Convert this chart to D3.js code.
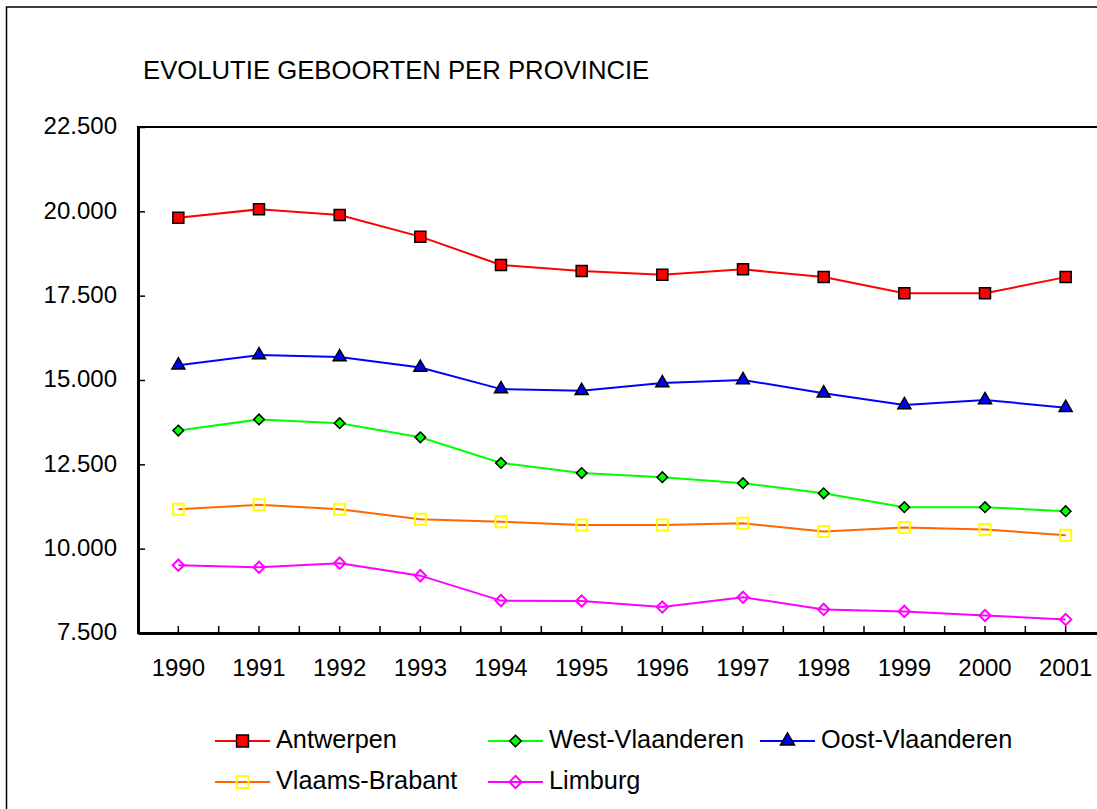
<!DOCTYPE html>
<html>
<head>
<meta charset="utf-8">
<script src="https://cdn.jsdelivr.net/npm/d3@7"></script>
<style>
  body { margin: 0; background: #fff; }
  text { font-family: "Liberation Sans", Arial, sans-serif; fill: #000; }
</style>
</head>
<body>
<svg id="chart" width="1097" height="809"></svg>
<script>
// data
var years = ["1990","1991","1992","1993","1994","1995","1996","1997","1998","1999","2000","2001"];
var antwerpen      = [19810, 20060, 19890, 19250, 18410, 18230, 18120, 18280, 18050, 17570, 17570, 18050];
var westVlaanderen = [13500, 13830, 13720, 13300, 12540, 12240, 12120, 11940, 11640, 11230, 11230, 11110];
var oostVlaanderen = [15440, 15740, 15680, 15370, 14730, 14680, 14910, 15000, 14610, 14260, 14410, 14180];
var vlaamsBrabant  = [11170, 11300, 11170, 10870, 10800, 10700, 10700, 10750, 10510, 10630, 10570, 10400];
var limburg        = [9510, 9450, 9570, 9200, 8460, 8450, 8270, 8560, 8200, 8140, 8020, 7900];
var yTicks = [7500, 10000, 12500, 15000, 17500, 20000, 22500];

var series = [
  {name: "Antwerpen", values: antwerpen, line: "#ff0000", marker: "square", fill: "#ff0000", stroke: "#000", size: 11},
  {name: "West-Vlaanderen", values: westVlaanderen, line: "#00ff00", marker: "diamond", fill: "#00ff00", stroke: "#000", size: 7.5},
  {name: "Oost-Vlaanderen", values: oostVlaanderen, line: "#0000ff", marker: "triangle", fill: "#0000ff", stroke: "#000", size: 13},
  {name: "Vlaams-Brabant", values: vlaamsBrabant, line: "#ff6600", marker: "square", fill: "none", stroke: "#ffff00", size: 11},
  {name: "Limburg", values: limburg, line: "#ff00ff", marker: "diamond", fill: "none", stroke: "#ff00ff", size: 8}
];

var svg = d3.select("#chart");
var plotLeft = 138, plotTop = 127, plotRight = 1106, plotBottom = 633;

var nl = d3.formatLocale({decimal: ",", thousands: ".", grouping: [3], currency: ["€", ""]});
var fmt = nl.format(",.0f");

// outer frame
svg.append("rect")
  .attr("x", 6.5).attr("y", 7).attr("width", 1200).attr("height", 1000)
  .attr("fill", "none").attr("stroke", "#000").attr("stroke-width", 1.5);

svg.append("text")
  .attr("x", 143).attr("y", 79)
  .style("font-size", "25.7px")
  .text("EVOLUTIE GEBOORTEN PER PROVINCIE");

var x = d3.scaleBand().domain(years).range([plotLeft, plotRight]);
var y = d3.scaleLinear().domain([7500, 22500]).range([plotBottom, plotTop]);
function cx(d) { return x(d) + x.bandwidth() / 2; }

// plot frame
svg.append("rect")
  .attr("x", plotLeft).attr("y", plotTop).attr("width", plotRight - plotLeft).attr("height", plotBottom - plotTop)
  .attr("fill", "none").attr("stroke", "#000").attr("stroke-width", 2);

var yAxis = svg.append("g")
  .attr("transform", "translate(" + plotLeft + ",0)")
  .call(d3.axisLeft(y).tickValues(yTicks).tickFormat(fmt).tickSizeInner(-7).tickSizeOuter(0).tickPadding(21));
yAxis.select(".domain").attr("stroke-width", 3);
yAxis.selectAll(".tick line").attr("stroke-width", 1.5);
yAxis.selectAll("text").style("font-size", "24px").attr("dy", "0.28em");

var xAxis = svg.append("g")
  .attr("transform", "translate(0," + plotBottom + ")")
  .call(d3.axisBottom(x).tickSizeInner(-7).tickSizeOuter(0).tickPadding(26));
xAxis.select(".domain").attr("stroke-width", 3);
xAxis.selectAll(".tick line").attr("stroke-width", 1.5);
xAxis.selectAll("text").style("font-size", "24px");
// ticks between categories
xAxis.selectAll(".between")
  .data(years.slice(1))
  .enter().append("line")
  .attr("class", "between")
  .attr("x1", function(d) { return x(d); })
  .attr("x2", function(d) { return x(d); })
  .attr("y1", 0).attr("y2", -7)
  .attr("stroke", "#000").attr("stroke-width", 1.5);

function markerPath(type, s) {
  if (type == "square") return d3.symbol(d3.symbolSquare, s * s)();
  if (type == "diamond") return d3.symbol(d3.symbolSquare, s * s)();
  // triangle, side s
  return d3.symbol(d3.symbolTriangle, Math.sqrt(3) / 4 * s * s)();
}
function markerRot(type) { return type == "diamond" ? " rotate(45)" : ""; }

var line = d3.line()
  .x(function(d, i) { return cx(years[i]); })
  .y(function(d) { return y(d); });

series.forEach(function(s) {
  svg.append("path")
    .datum(s.values)
    .attr("d", line)
    .attr("fill", "none")
    .attr("stroke", s.line)
    .attr("stroke-width", 2);

  svg.selectAll(null)
    .data(s.values)
    .enter().append("path")
    .attr("d", markerPath(s.marker, s.size))
    .attr("transform", function(d, i) {
      return "translate(" + cx(years[i]) + "," + y(d) + ")" + markerRot(s.marker);
    })
    .attr("fill", s.fill)
    .attr("stroke", s.stroke)
    .attr("stroke-width", s.fill == "none" ? 2 : 1.5);
});

// legend: two rows, three columns
var legendCols = [215, 488, 760];
var legendRows = [741, 782];
var legend = svg.selectAll(".legend")
  .data(series)
  .enter().append("g")
  .attr("class", "legend")
  .attr("transform", function(d, i) {
    return "translate(" + legendCols[i % 3] + "," + legendRows[Math.floor(i / 3)] + ")";
  });

legend.append("line")
  .attr("x1", 0).attr("x2", 55)
  .attr("y1", 0).attr("y2", 0)
  .attr("stroke", function(d) { return d.line; })
  .attr("stroke-width", 2);

legend.append("path")
  .attr("d", function(d) { return markerPath(d.marker, d.size * 1.08); })
  .attr("transform", function(d) { return "translate(27.5,0)" + markerRot(d.marker); })
  .attr("fill", function(d) { return d.fill; })
  .attr("stroke", function(d) { return d.stroke; })
  .attr("stroke-width", function(d) { return d.fill == "none" ? 2 : 1.5; });

legend.append("text")
  .attr("x", 61)
  .attr("y", 6.5)
  .style("font-size", "25.3px")
  .text(function(d) { return d.name; });
</script>
</body>
</html>
